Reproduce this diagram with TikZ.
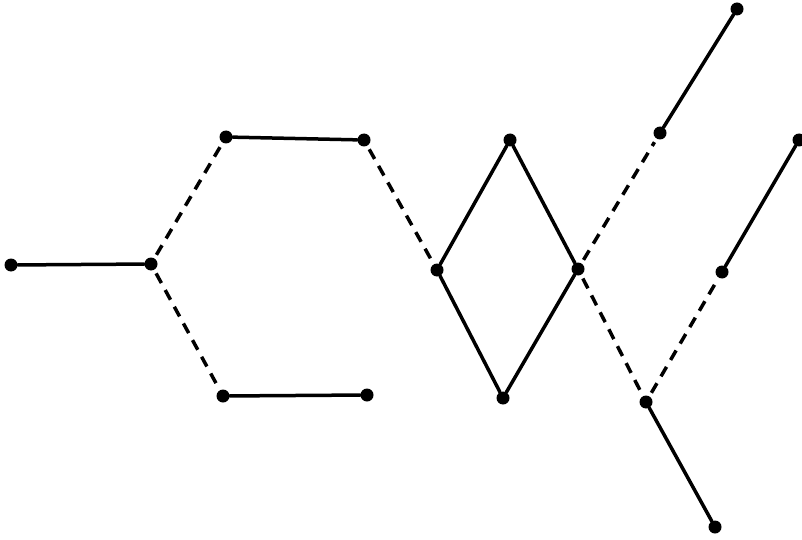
\documentclass[tikz,border=0pt]{standalone}
\begin{document}
\begin{tikzpicture}[x=1pt,y=-1pt,
  dot/.style={circle,fill=black,inner sep=0pt,minimum size=13pt},
  solidedge/.style={line width=3.5pt,line cap=round},
  dashedge/.style={line width=3.5pt,dash pattern=on 11pt off 8pt,shorten <=4pt,shorten >=4pt}]
\useasboundingbox (0,0) rectangle (802,540);
\node[dot] (A) at (11,265) {};
\node[dot] (B) at (151,264) {};
\node[dot] (C) at (226,137) {};
\node[dot] (D) at (364,140) {};
\node[dot] (E) at (223,396) {};
\node[dot] (F) at (367,395) {};
\node[dot] (G) at (437,270) {};
\node[dot] (H) at (510,140) {};
\node[dot] (I) at (503,398) {};
\node[dot] (J) at (578,269) {};
\node[dot] (K) at (660,133) {};
\node[dot] (L) at (737,9) {};
\node[dot] (M) at (646,402) {};
\node[dot] (N) at (715,527) {};
\node[dot] (O) at (722,272) {};
\node[dot] (P) at (799,140) {};
\draw[solidedge] (A) -- (B);
\draw[dashedge] (B) -- (C);
\draw[dashedge] (B) -- (E);
\draw[solidedge] (C) -- (D);
\draw[solidedge] (E) -- (F);
\draw[dashedge] (D) -- (G);
\draw[solidedge] (G) -- (H);
\draw[solidedge] (G) -- (I);
\draw[solidedge] (H) -- (J);
\draw[solidedge] (I) -- (J);
\draw[dashedge] (J) -- (K);
\draw[solidedge] (K) -- (L);
\draw[dashedge] (J) -- (M);
\draw[solidedge] (M) -- (N);
\draw[dashedge] (M) -- (O);
\draw[solidedge] (O) -- (P);
\end{tikzpicture}
\end{document}
